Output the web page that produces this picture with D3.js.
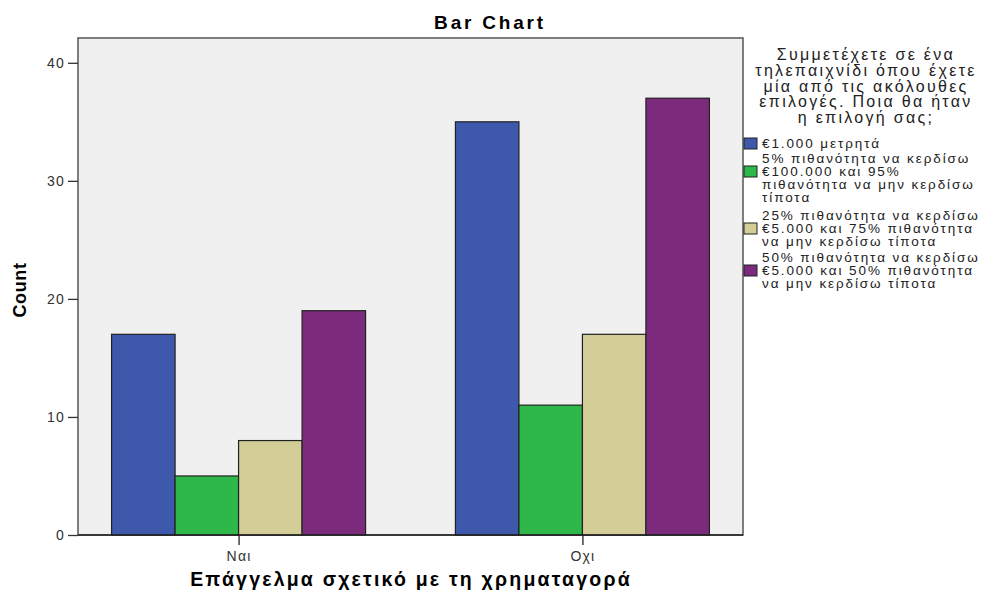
<!DOCTYPE html>
<html><head><meta charset="utf-8">
<script src="https://cdn.jsdelivr.net/npm/d3@7"></script>
<style>body{margin:0;background:#fff}svg{font-family:"Liberation Sans",Arial,sans-serif}</style>
</head><body>
<svg id="c" width="990" height="590"></svg>
<script>
const categories = ["Ναι", "Οχι"];
const seriesNames = ["€1.000 μετρητά", "5% πιθανότητα να κερδίσω €100.000 και 95% πιθανότητα να μην κερδίσω τίποτα", "25% πιθανότητα να κερδίσω €5.000 και 75% πιθανότητα να μην κερδίσω τίποτα", "50% πιθανότητα να κερδίσω €5.000 και 50% πιθανότητα να μην κερδίσω τίποτα"];
const legendLines = [
  ["€1.000 μετρητά"],
  ["5% πιθανότητα να κερδίσω", "€100.000 και 95%", "πιθανότητα να μην κερδίσω", "τίποτα"],
  ["25% πιθανότητα να κερδίσω", "€5.000 και 75% πιθανότητα", "να μην κερδίσω τίποτα"],
  ["50% πιθανότητα να κερδίσω", "€5.000 και 50% πιθανότητα", "να μην κερδίσω τίποτα"]
];
const valuesNai = [17, 5, 8, 19];
const valuesOxi = [35, 11, 17, 37];
const yTicks = [0, 10, 20, 30, 40];
const colors = ["#3e58ab", "#2eb84a", "#d3ce98", "#7c2a7c"];
const legendTitle = ["Συμμετέχετε σε ένα", "τηλεπαιχνίδι όπου έχετε", "μία από τις ακόλουθες", "επιλογές. Ποια θα ήταν", "η επιλογή σας;"];
const chartTitle = "Bar Chart";
const xTitle = "Επάγγελμα σχετικό με τη χρηματαγορά";
const yTitle = "Count";

const values = [valuesNai, valuesOxi];
const svg = d3.select("#c");
const L = 78, R = 743, T = 38, B = 535;

const x = d3.scalePoint().domain(categories).range([L, R]).padding(0.467);
const inner = d3.scaleBand().domain(d3.range(seriesNames.length)).range([-127, 127]);
const y = d3.scaleLinear().domain([0, 42.1]).range([B, T]);

svg.append("rect").attr("x", L).attr("y", T).attr("width", R - L).attr("height", B - T)
  .attr("fill", "#f0f0f0").attr("stroke", "#555").attr("stroke-width", 1.5);

const g = svg.append("g");
categories.forEach((c, ci) => {
  g.selectAll(null).data(values[ci]).enter().append("rect")
    .attr("x", (d, i) => x(c) + inner(i))
    .attr("y", d => y(d))
    .attr("width", inner.bandwidth())
    .attr("height", d => B - y(d))
    .attr("fill", (d, i) => colors[i])
    .attr("stroke", "#222").attr("stroke-width", 1.2);
});

const yAxis = svg.append("g").attr("transform", `translate(${L},0)`)
  .call(d3.axisLeft(y).tickValues(yTicks).tickSize(10).tickPadding(3));
yAxis.select(".domain").remove();
yAxis.selectAll("line").attr("stroke", "#333").attr("stroke-width", 1.3);
yAxis.selectAll("text").attr("font-size", 14).attr("letter-spacing", 1.2).attr("fill", "#333").attr("font-family", "Liberation Sans, Arial, sans-serif");

const xAxis = svg.append("g").attr("transform", `translate(0,${B})`)
  .call(d3.axisBottom(x).tickSize(10).tickPadding(6));
xAxis.select(".domain").remove();
xAxis.selectAll("line").attr("stroke", "#222").attr("stroke-width", 1.3);
xAxis.selectAll("text").attr("font-size", 14).attr("letter-spacing", 1.2).attr("fill", "#333").attr("font-family", "Liberation Sans, Arial, sans-serif");

svg.append("line").attr("x1", L).attr("x2", R).attr("y1", B).attr("y2", B).attr("stroke", "#222").attr("stroke-width", 1.5);

svg.append("text").attr("x", 490).attr("y", 29).attr("text-anchor", "middle")
  .attr("font-size", 19).attr("font-weight", "bold").attr("letter-spacing", 2.8).text(chartTitle);
svg.append("text").attr("x", 411).attr("y", 586).attr("text-anchor", "middle")
  .attr("font-size", 19.5).attr("font-weight", "bold").attr("letter-spacing", 2.2).text(xTitle);
svg.append("text").attr("transform", "translate(26,290) rotate(-90)").attr("text-anchor", "middle")
  .attr("font-size", 18).attr("font-weight", "bold").attr("letter-spacing", 0.6).text(yTitle);

const lg = svg.append("g").attr("fill", "#222");
legendTitle.forEach((t, i) => {
  lg.append("text").attr("x", 866).attr("y", 60 + i * 15.8).attr("text-anchor", "middle")
    .attr("font-size", 16).attr("letter-spacing", 2.3).text(t);
});
const firstBase = [148, 163, 220, 262];
const lineH = 13;
legendLines.forEach((lines, si) => {
  const mid = lines.length === 1 ? 0 : 1;
  lines.forEach((t, li) => {
    lg.append("text").attr("x", 762).attr("y", firstBase[si] + li * lineH)
      .attr("font-size", 13.5).attr("letter-spacing", 1.9).text(t);
  });
  const sy = firstBase[si] + mid * lineH - 10;
  lg.append("rect").attr("x", 744).attr("y", sy).attr("width", 13).attr("height", 11)
    .attr("fill", colors[si]).attr("stroke", "#222").attr("stroke-width", 1);
});
</script>
</body></html>
